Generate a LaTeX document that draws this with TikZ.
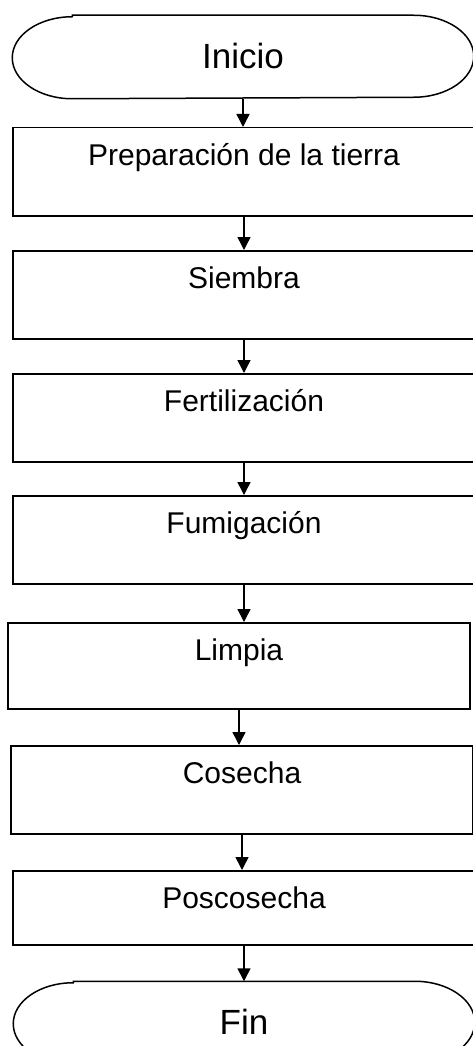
\documentclass[tikz,border=0pt]{standalone}
\usepackage{fontspec}
\setmainfont{Liberation Sans}
\usepackage{tikz}
\usetikzlibrary{arrows.meta}

% contorno de inicio / fin con extremos elipticos
\newcommand{\bordeterminal}[1]{%
  \draw ([xshift=60pt]#1.north west) -- ([xshift=-60pt]#1.north east)
    arc[start angle=90,end angle=-90,x radius=60pt,y radius=41pt]
    -- ([xshift=60pt]#1.south west)
    arc[start angle=270,end angle=90,x radius=60pt,y radius=41pt] -- cycle;}

\begin{document}
\begin{tikzpicture}[x=1pt,y=-1pt,line width=1.5pt,
    caja/.style={draw,rectangle,inner sep=0pt,minimum width=462pt,
      text height=38pt,text depth=50pt,anchor=north,
      font=\fontsize{30}{36}\selectfont},
    terminal/.style={rectangle,inner sep=0pt,minimum width=460pt,
      minimum height=82pt,text height=27pt,text depth=4pt,
      font=\fontsize{35}{42}\selectfont},
    flecha/.style={-{Triangle[length=13pt,width=13pt]}}]
  \useasboundingbox (0,0) rectangle (472,1046);
  \node[terminal] (inicio) at (243,57) {Inicio};
  \bordeterminal{inicio}
  \node[caja] (prep) at (244,127) {Preparación de la tierra};
  \node[caja] (siembra) at (244,250) {Siembra};
  \node[caja] (fert) at (244,373) {Fertilización};
  \node[caja] (fumi) at (244,495) {Fumigación};
  \node[caja,text depth=48pt] (limpia) at (239,622) {Limpia};
  \node[caja] (cosecha) at (242,745) {Cosecha};
  \node[caja,text depth=36pt] (poscos) at (244,870) {Poscosecha};
  \node[terminal] (fin) at (244,1023) {Fin};
  \bordeterminal{fin}
  \foreach \a/\b in {inicio/prep,prep/siembra,siembra/fert,fert/fumi,
      fumi/limpia,limpia/cosecha,cosecha/poscos,poscos/fin}
    \draw[flecha] (\a.south) -- (\a.south |- \b.north);
\end{tikzpicture}
\end{document}
